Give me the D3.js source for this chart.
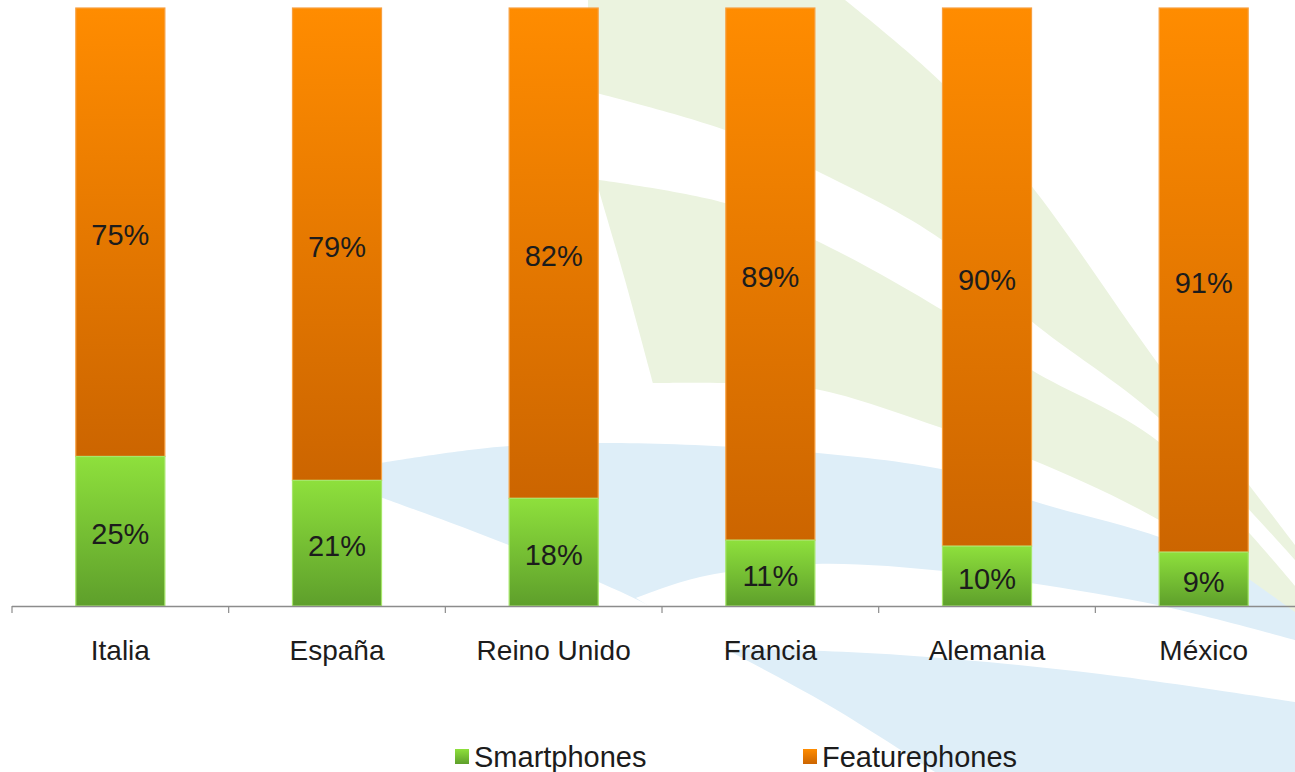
<!DOCTYPE html>
<html>
<head>
<meta charset="utf-8">
<script src="https://cdn.jsdelivr.net/npm/d3@7"></script>
<style>
  html, body { margin: 0; padding: 0; background: #ffffff; }
  svg { display: block; font-family: "Liberation Sans", Arial, sans-serif; }
</style>
</head>
<body>
<svg id="chart" width="1295" height="772"></svg>
<script>
// ---- data ----
const categories = ["Italia", "España", "Reino Unido", "Francia", "Alemania", "México"];
const smartphones = [25, 21, 18, 11, 10, 9];
const featurephones = [75, 79, 82, 89, 90, 91];
const seriesNames = ["Smartphones", "Featurephones"];

const W = 1295, H = 772;
const svg = d3.select("#chart");

// ---- background watermark (decorative logo shapes) ----
const bg = svg.append("g").attr("class", "watermark");
const smooth = d3.line().curve(d3.curveCatmullRom.alpha(0.5));
function shape(parts) {
  // parts: array of [points, smoothFlag]; joined into one closed path
  let d = "";
  parts.forEach((p, i) => {
    const seg = p[1] ? smooth(p[0]) : d3.line()(p[0]);
    d += (i === 0 ? seg : seg.replace(/^M/, "L"));
  });
  return d + "Z";
}
// blue swoosh
bg.append("path").attr("fill", "#deeef8").attr("d", shape([
  [[[380,463],[497,447],[613,443],[818,453],[963,474],[1030,500],[1162,538],[1295,596]], true],
  [[[1295,596],[1295,772],[935,772]], false],
  [[[935,772],[830,706],[724,648],[640,601],[560,566],[470,530],[380,497]], true]
]));
// white gap in blue swoosh
bg.append("path").attr("fill", "#ffffff").attr("d", shape([
  [[[636,598],[700,577],[815,564],[943,571],[1030,583],[1162,606],[1295,640]], true],
  [[[1295,640],[1295,702]], false],
  [[[1295,702],[1100,674],[900,655],[760,649],[724,648],[680,625],[636,598]], true]
]));
// green fan
bg.append("path").attr("fill", "#ebf3df").attr("d", shape([
  [[[588,0],[845,0]], false],
  [[[845,0],[942,83],[1030,184],[1159,365],[1295,545]], true],
  [[[1295,545],[1295,612]], false],
  [[[1295,612],[1159,520],[1030,459],[942,428],[815,389],[725,383],[653,383]], true],
  [[[653,383],[625,280],[598,187],[588,150]], true]
]));
// white stripe across the green fan
bg.append("path").attr("fill", "#ffffff").attr("d", shape([
  [[[585,90],[725,130],[815,170],[942,240],[1030,320],[1159,418],[1295,560]], true],
  [[[1295,560],[1295,586]], false],
  [[[1295,586],[1159,442],[1030,369],[942,310],[815,240],[725,203],[585,178]], true]
]));

// ---- scales ----
const x = d3.scaleBand()
  .domain(categories)
  .range([12, 12 + 6 * 216.67])
  .paddingInner(0.589)
  .paddingOuter(0.589 / 2);
const y = d3.scaleLinear().domain([0, 100]).range([606, 8]);

// ---- gradients ----
const defs = svg.append("defs");
function grad(id, top, bottom) {
  const g = defs.append("linearGradient").attr("id", id)
    .attr("x1", 0).attr("y1", 0).attr("x2", 0).attr("y2", 1);
  g.append("stop").attr("offset", "0%").attr("stop-color", top);
  g.append("stop").attr("offset", "100%").attr("stop-color", bottom);
}
grad("gOrange", "#ff8c00", "#cc6500");
grad("gGreen", "#8ee03c", "#5e9f2b");

const rows = categories.map((c, i) => ({ cat: c, s: smartphones[i], f: featurephones[i] }));

// ---- bars ----
const bars = svg.append("g");
bars.selectAll("rect.f").data(rows).join("rect")
  .attr("class", "f")
  .attr("x", d => x(d.cat))
  .attr("width", x.bandwidth())
  .attr("y", d => y(d.s + d.f))
  .attr("height", d => y(d.s) - y(d.s + d.f))
  .attr("fill", "url(#gOrange)")
  .attr("stroke", "#f7a040")
  .attr("stroke-width", 1.2);
bars.selectAll("rect.s").data(rows).join("rect")
  .attr("class", "s")
  .attr("x", d => x(d.cat))
  .attr("width", x.bandwidth())
  .attr("y", d => y(d.s))
  .attr("height", d => y(0) - y(d.s))
  .attr("fill", "url(#gGreen)")
  .attr("stroke", "#a6e66a")
  .attr("stroke-width", 1.2);

// ---- value labels ----
const lab = svg.append("g").attr("font-size", 29).attr("fill", "#1c1c1c").attr("text-anchor", "middle");
lab.selectAll("text.f").data(rows).join("text")
  .attr("x", d => x(d.cat) + x.bandwidth() / 2)
  .attr("y", d => (y(d.s + d.f) + y(d.s)) / 2 + 2)
  .attr("dy", "0.36em")
  .text(d => d.f + "%");
lab.selectAll("text.s").data(rows).join("text")
  .attr("x", d => x(d.cat) + x.bandwidth() / 2)
  .attr("y", d => (y(d.s) + y(0)) / 2 + 2)
  .attr("dy", "0.36em")
  .text(d => d.s + "%");

// ---- x axis ----
const step = x.step();
const axisG = svg.append("g");
axisG.append("line")
  .attr("x1", 12).attr("x2", W).attr("y1", y(0) + 0.5).attr("y2", y(0) + 0.5)
  .attr("stroke", "#8c8c8c").attr("stroke-width", 1.5);
axisG.selectAll("line.tick").data(categories).join("line")
  .attr("class", "tick")
  .attr("x1", d => x(d) - step * x.paddingInner() / 2)
  .attr("x2", d => x(d) - step * x.paddingInner() / 2)
  .attr("y1", y(0)).attr("y2", y(0) + 7)
  .attr("stroke", "#8c8c8c").attr("stroke-width", 1.2);
axisG.selectAll("text").data(categories).join("text")
  .attr("x", d => x(d) + x.bandwidth() / 2)
  .attr("y", 650)
  .attr("dy", "0.36em")
  .attr("text-anchor", "middle")
  .attr("font-size", 28)
  .attr("fill", "#1c1c1c")
  .text(d => d);

// ---- legend ----
const legendColors = ["url(#gGreen)", "url(#gOrange)"];
const legendX = [455, 803];
const leg = svg.append("g");
seriesNames.forEach((name, i) => {
  leg.append("rect")
    .attr("x", legendX[i]).attr("y", 749).attr("width", 14).attr("height", 15)
    .attr("fill", legendColors[i]);
  leg.append("text")
    .attr("x", legendX[i] + 19).attr("y", 757).attr("dy", "0.36em")
    .attr("font-size", 29).attr("fill", "#1c1c1c")
    .text(name);
});
</script>
</body>
</html>
